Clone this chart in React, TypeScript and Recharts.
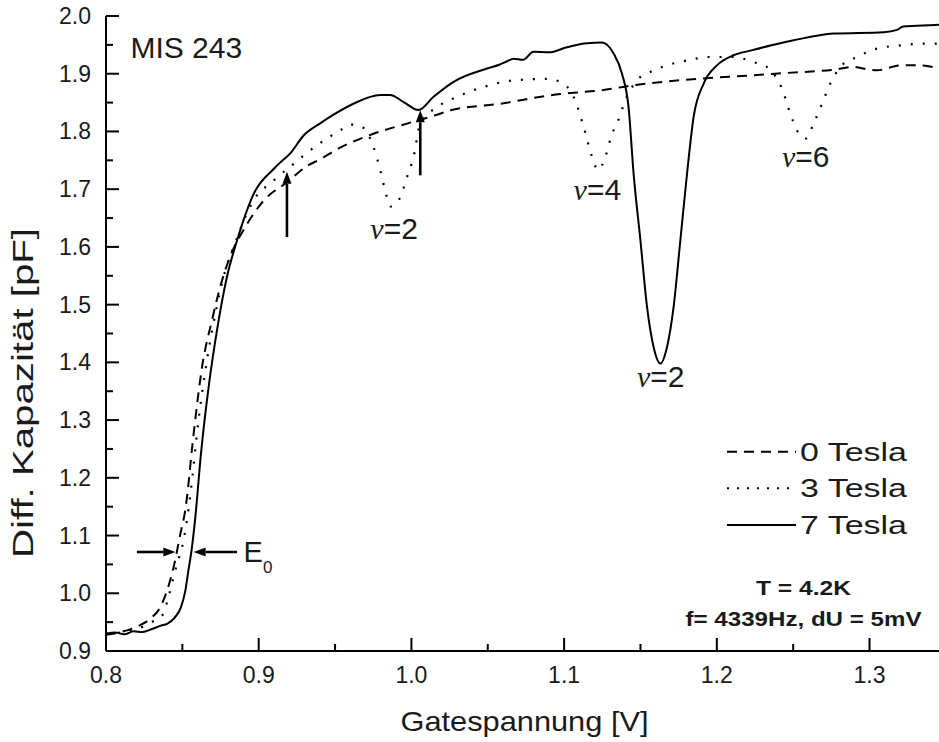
import React from 'react';
import { LineChart, Line, XAxis, YAxis, ReferenceLine, ReferenceDot, Legend } from 'recharts';

// ---- data (Gatespannung [V] vs Diff. Kapazität [pF]) ----
const V0 = [0.800, 0.810, 0.820, 0.829, 0.8356, 0.840, 0.8443, 0.8487, 0.8519, 0.8574, 0.8629, 0.8694, 0.876, 0.8825, 0.8912, 0.9032, 0.9185, 0.9316, 0.9403, 0.9534, 0.9752, 0.9971, 1.0168, 1.0255, 1.0582, 1.091, 1.1062, 1.1237, 1.1455, 1.1892, 1.222, 1.2438, 1.2765, 1.2896, 1.300, 1.3049, 1.3202, 1.333, 1.3457];
const C0 = [0.928, 0.933, 0.942, 0.956, 0.976, 1.005, 1.0455, 1.103, 1.1437, 1.2766, 1.392, 1.473, 1.542, 1.591, 1.6345, 1.680, 1.712, 1.740, 1.752, 1.772, 1.796, 1.8136, 1.829, 1.8366, 1.848, 1.8626, 1.867, 1.871, 1.880, 1.8915, 1.897, 1.901, 1.907, 1.9116, 1.907, 1.906, 1.9145, 1.9145, 1.909];

const V3 = [0.800, 0.810, 0.820, 0.830, 0.8377, 0.840, 0.8432, 0.8465, 0.8498, 0.853, 0.8552, 0.8606, 0.8661, 0.8716, 0.8781, 0.8836, 0.8967, 0.9098, 0.9229, 0.9382, 0.9534, 0.960, 0.9676, 0.9752, 0.9796, 0.984, 0.9865, 0.9927, 0.9971, 1.0014, 1.0058, 1.0168, 1.0299, 1.0473, 1.0669, 1.0888, 1.0975, 1.1062, 1.1128, 1.1183, 1.1222, 1.127, 1.1314, 1.1346, 1.141, 1.1477, 1.1564, 1.1674, 1.1805, 1.1957, 1.211, 1.2241, 1.2329, 1.2372, 1.2427, 1.2481, 1.2525, 1.258, 1.2634, 1.2689, 1.2743, 1.2809, 1.2918, 1.3049, 1.3202, 1.3354, 1.3457];
const C3 = [0.930, 0.932, 0.938, 0.950, 0.965, 0.985, 1.017, 1.051, 1.080, 1.126, 1.170, 1.300, 1.4035, 1.484, 1.559, 1.600, 1.681, 1.715, 1.744, 1.776, 1.802, 1.812, 1.808, 1.773, 1.733, 1.686, 1.670, 1.686, 1.721, 1.756, 1.8136, 1.842, 1.860, 1.877, 1.8885, 1.891, 1.8856, 1.860, 1.808, 1.756, 1.733, 1.756, 1.796, 1.8136, 1.860, 1.8885, 1.903, 1.9145, 1.923, 1.929, 1.929, 1.920, 1.9116, 1.900, 1.874, 1.831, 1.802, 1.7875, 1.8136, 1.848, 1.883, 1.9116, 1.929, 1.9435, 1.949, 1.952, 1.952];

const V7 = [0.800, 0.806, 0.812, 0.818, 0.824, 0.830, 0.836, 0.840, 0.845, 0.849, 0.852, 0.854, 0.856, 0.8585, 0.8622, 0.8672, 0.8727, 0.8792, 0.8858, 0.890, 0.8967, 0.9098, 0.914, 0.9207, 0.9294, 0.9403, 0.949, 0.962, 0.9796, 0.986, 0.9949, 1.0047, 1.0145, 1.0276, 1.0495, 1.058, 1.063, 1.0669, 1.073, 1.080, 1.090, 1.1019, 1.115, 1.1248, 1.1324, 1.1379, 1.1422, 1.1455, 1.150, 1.1543, 1.1586, 1.163, 1.1674, 1.1717, 1.1761, 1.1805, 1.1848, 1.1914, 1.2001, 1.211, 1.222, 1.2503, 1.2765, 1.3092, 1.318, 1.322, 1.331, 1.3457];
const C7 = [0.930, 0.932, 0.929, 0.934, 0.933, 0.938, 0.944, 0.947, 0.958, 0.975, 1.005, 1.040, 1.074, 1.132, 1.242, 1.357, 1.456, 1.548, 1.611, 1.646, 1.692, 1.735, 1.746, 1.762, 1.793, 1.814, 1.829, 1.848, 1.863, 1.863, 1.851, 1.837, 1.860, 1.886, 1.909, 1.916, 1.922, 1.926, 1.924, 1.938, 1.937, 1.946, 1.953, 1.954, 1.935, 1.900, 1.842, 1.727, 1.611, 1.496, 1.4266, 1.398, 1.4266, 1.496, 1.611, 1.727, 1.825, 1.883, 1.9145, 1.932, 1.940, 1.958, 1.9695, 1.972, 1.976, 1.982, 1.983, 1.985];

const SERIES_NAMES = ['0 Tesla', '3 Tesla', '7 Tesla'];
const X_TICKS = [0.8, 0.85, 0.9, 0.95, 1.0, 1.05, 1.1, 1.15, 1.2, 1.25, 1.3];
const Y_TICKS = [0.9, 0.95, 1.0, 1.05, 1.1, 1.15, 1.2, 1.25, 1.3, 1.35, 1.4, 1.45, 1.5, 1.55, 1.6, 1.65, 1.7, 1.75, 1.8, 1.85, 1.9, 1.95, 2.0];
const X_DOMAIN = [0.8, 1.3455];
const Y_DOMAIN = [0.9, 2.0];

// annotations (data coordinates)
const NU_LABELS = [
  { v: 0.9731, c: 1.6144, t: '=2' },
  { v: 1.1062, c: 1.6807, t: '=4' },
  { v: 1.1477, c: 1.3573, t: '=2' },
  { v: 1.2427, c: 1.7384, t: '=6' },
];
const ARROWS = [
  { from: [0.8203, 1.0715], to: [0.8454, 1.0715] },
  { from: [0.8858, 1.0715], to: [0.8574, 1.0715] },
  { from: [0.9185, 1.617], to: [0.9185, 1.730] },
  { from: [1.0058, 1.724], to: [1.0058, 1.8366] },
];
const MIS_POS = { v: 0.816, c: 1.928 };
const E0_POS = { v: 0.8901, c: 1.0542 };

const FONT = '"Liberation Sans", Arial, Helvetica, sans-serif';
const INK = '#1a1a1a';

const mk = (vs: number[], cs: number[]) => vs.map((v, i) => ({ v, c: cs[i] }));
const D0 = mk(V0, C0);
const D3 = mk(V3, C3);
const D7 = mk(V7, C7);

const isMajor = (val: number) => Math.abs(val * 10 - Math.round(val * 10)) < 1e-6;

const XTickBottom = (p: any) => {
  const { x, y, payload } = p;
  const major = isMajor(payload.value);
  return (
    <g>
      <line x1={x} y1={y} x2={x} y2={y - (major ? 13 : 7)} stroke="#000" strokeWidth={2} />
      {major && (
        <text x={x} y={y + 32} textAnchor="middle" fontFamily={FONT} fontSize={23} fill={INK}>
          {payload.value.toFixed(1)}
        </text>
      )}
    </g>
  );
};
const XTickTop = (p: any) => {
  const { x, y, payload } = p;
  const major = isMajor(payload.value);
  return <line x1={x} y1={y} x2={x} y2={y + (major ? 13 : 7)} stroke="#000" strokeWidth={2} />;
};
const YTickLeft = (p: any) => {
  const { x, y, payload } = p;
  const major = isMajor(payload.value);
  return (
    <g>
      <line x1={x} y1={y} x2={x + (major ? 13 : 7)} y2={y} stroke="#000" strokeWidth={2} />
      {major && (
        <text x={x - 15} y={y + 8} textAnchor="end" fontFamily={FONT} fontSize={23} fill={INK}>
          {payload.value.toFixed(1)}
        </text>
      )}
    </g>
  );
};
const YTickRight = (p: any) => {
  const { x, y, payload } = p;
  const major = isMajor(payload.value);
  return <line x1={x} y1={y} x2={x - (major ? 13 : 7)} y2={y} stroke="#000" strokeWidth={2} />;
};

const ArrowShape = (p: any) => {
  const { x1, y1, x2, y2 } = p;
  const dx = x2 - x1, dy = y2 - y1;
  const L = Math.sqrt(dx * dx + dy * dy) || 1;
  const ux = dx / L, uy = dy / L;
  const head = 12, hw = 4.5;
  const bx = x2 - ux * head, by = y2 - uy * head;
  const pts = `${x2},${y2} ${bx - uy * hw},${by + ux * hw} ${bx + uy * hw},${by - ux * hw}`;
  return (
    <g>
      <line x1={x1} y1={y1} x2={bx} y2={by} stroke="#000" strokeWidth={2.6} />
      <polygon points={pts} fill="#000" />
    </g>
  );
};

const LegendBox = () => (
  <svg width={279} height={215} style={{ display: 'block', overflow: 'visible' }}>
    {[
      { name: SERIES_NAMES[0], dash: '10 7', w: 2 },
      { name: SERIES_NAMES[1], dash: '2 8', w: 2 },
      { name: SERIES_NAMES[2], dash: undefined, w: 2 },
    ].map((r, i) => {
      const cy = 26.7 + i * 36.6;
      return (
        <g key={r.name}>
          <line x1={67} y1={cy} x2={136} y2={cy} stroke="#000" strokeWidth={r.w} strokeDasharray={r.dash} />
          <text x={140} y={cy + 9} fontFamily={FONT} fontSize={26} fill={INK} textLength={107} lengthAdjust="spacingAndGlyphs">{r.name}</text>
        </g>
      );
    })}
    <text x={143.5} y={170} textAnchor="middle" fontFamily={FONT} fontSize={20} fontWeight="bold" fill={INK} textLength={95} lengthAdjust="spacingAndGlyphs">T = 4.2K</text>
    <text x={143.5} y={201} textAnchor="middle" fontFamily={FONT} fontSize={20} fontWeight="bold" fill={INK} textLength={236} lengthAdjust="spacingAndGlyphs">f= 4339Hz, dU = 5mV</text>
  </svg>
);

export default function App() {
  return (
    <div style={{ position: 'absolute', left: 0, top: 0, width: 940, height: 742, background: '#fff' }}>
      <LineChart width={940} height={742} margin={{ top: 16, right: 1, left: 0, bottom: 0 }}>
        <XAxis
          type="number"
          dataKey="v"
          domain={X_DOMAIN}
          ticks={X_TICKS}
          interval={0}
          allowDataOverflow
          height={91}
          tickSize={0}
          tickMargin={0}
          tickLine={false}
          axisLine={{ stroke: '#000', strokeWidth: 2 }}
          tick={<XTickBottom />}
          label={{
            content: (props: any) => {
              const vb = props.viewBox;
              return (
                <text x={vb.x + vb.width / 2 + 2} y={vb.y + 80} textAnchor="middle" fontFamily={FONT} fontSize={28} fill={INK} textLength={248} lengthAdjust="spacingAndGlyphs">
                  Gatespannung [V]
                </text>
              );
            },
          }}
        />
        <XAxis
          xAxisId="top"
          orientation="top"
          type="number"
          dataKey="v"
          domain={X_DOMAIN}
          ticks={X_TICKS}
          interval={0}
          allowDataOverflow
          height={0}
          tickSize={0}
          tickMargin={0}
          tickLine={false}
          axisLine={{ stroke: '#000', strokeWidth: 2 }}
          tick={<XTickTop />}
        />
        <YAxis
          type="number"
          domain={Y_DOMAIN}
          ticks={Y_TICKS}
          interval={0}
          allowDataOverflow
          width={106}
          tickSize={0}
          tickMargin={0}
          tickLine={false}
          axisLine={{ stroke: '#000', strokeWidth: 2 }}
          tick={<YTickLeft />}
          label={{
            content: () => (
              <text x={33} y={393} transform="rotate(-90 33 393)" textAnchor="middle" fontFamily={FONT} fontSize={29} fill={INK} textLength={330} lengthAdjust="spacingAndGlyphs">
                Diff. Kapazität [pF]
              </text>
            ),
          }}
        />
        <YAxis
          yAxisId="right"
          orientation="right"
          type="number"
          domain={Y_DOMAIN}
          ticks={Y_TICKS}
          interval={0}
          allowDataOverflow
          width={0}
          tickSize={0}
          tickMargin={0}
          tickLine={false}
          axisLine={{ stroke: '#000', strokeWidth: 2 }}
          tick={<YTickRight />}
        />
        <Legend
          layout="vertical"
          align="center"
          verticalAlign="middle"
          content={() => <LegendBox />}
          wrapperStyle={{ position: 'absolute', left: 660, top: 425, width: 279, height: 215 }}
        />
        <Line data={D0} dataKey="c" name={SERIES_NAMES[0]} type="monotone" stroke="#000" strokeWidth={2} strokeDasharray="10 7" dot={false} activeDot={false} isAnimationActive={false} />
        <Line data={D3} dataKey="c" name={SERIES_NAMES[1]} type="monotone" stroke="#000" strokeWidth={2.2} strokeDasharray="2 10" dot={false} activeDot={false} isAnimationActive={false} />
        <Line data={D7} dataKey="c" name={SERIES_NAMES[2]} type="monotone" stroke="#000" strokeWidth={2} dot={false} activeDot={false} isAnimationActive={false} />
        {ARROWS.map((a, i) => (
          <ReferenceLine
            key={'a' + i}
            segment={[{ x: a.from[0], y: a.from[1] }, { x: a.to[0], y: a.to[1] }]}
            shape={(p: any) => <ArrowShape {...p} />}
          />
        ))}
        <ReferenceDot
          x={MIS_POS.v}
          y={MIS_POS.c}
          r={0}
          shape={(p: any) => (
            <text x={p.cx} y={p.cy} fontFamily={FONT} fontSize={30} fill={INK}>MIS 243</text>
          )}
        />
        <ReferenceDot
          x={E0_POS.v}
          y={E0_POS.c}
          r={0}
          shape={(p: any) => (
            <text x={p.cx} y={p.cy} fontFamily={FONT} fontSize={29} fill={INK}>
              E<tspan fontSize={17} dy={11}>0</tspan>
            </text>
          )}
        />
        {NU_LABELS.map((n, i) => (
          <ReferenceDot
            key={'n' + i}
            x={n.v}
            y={n.c}
            r={0}
            shape={(p: any) => (
              <text x={p.cx} y={p.cy} fontFamily={FONT} fontSize={30} fill={INK}>
                <tspan fontFamily='"Liberation Serif", "Times New Roman", serif' fontStyle="italic">ν</tspan>
                {n.t}
              </text>
            )}
          />
        ))}
      </LineChart>
    </div>
  );
}
